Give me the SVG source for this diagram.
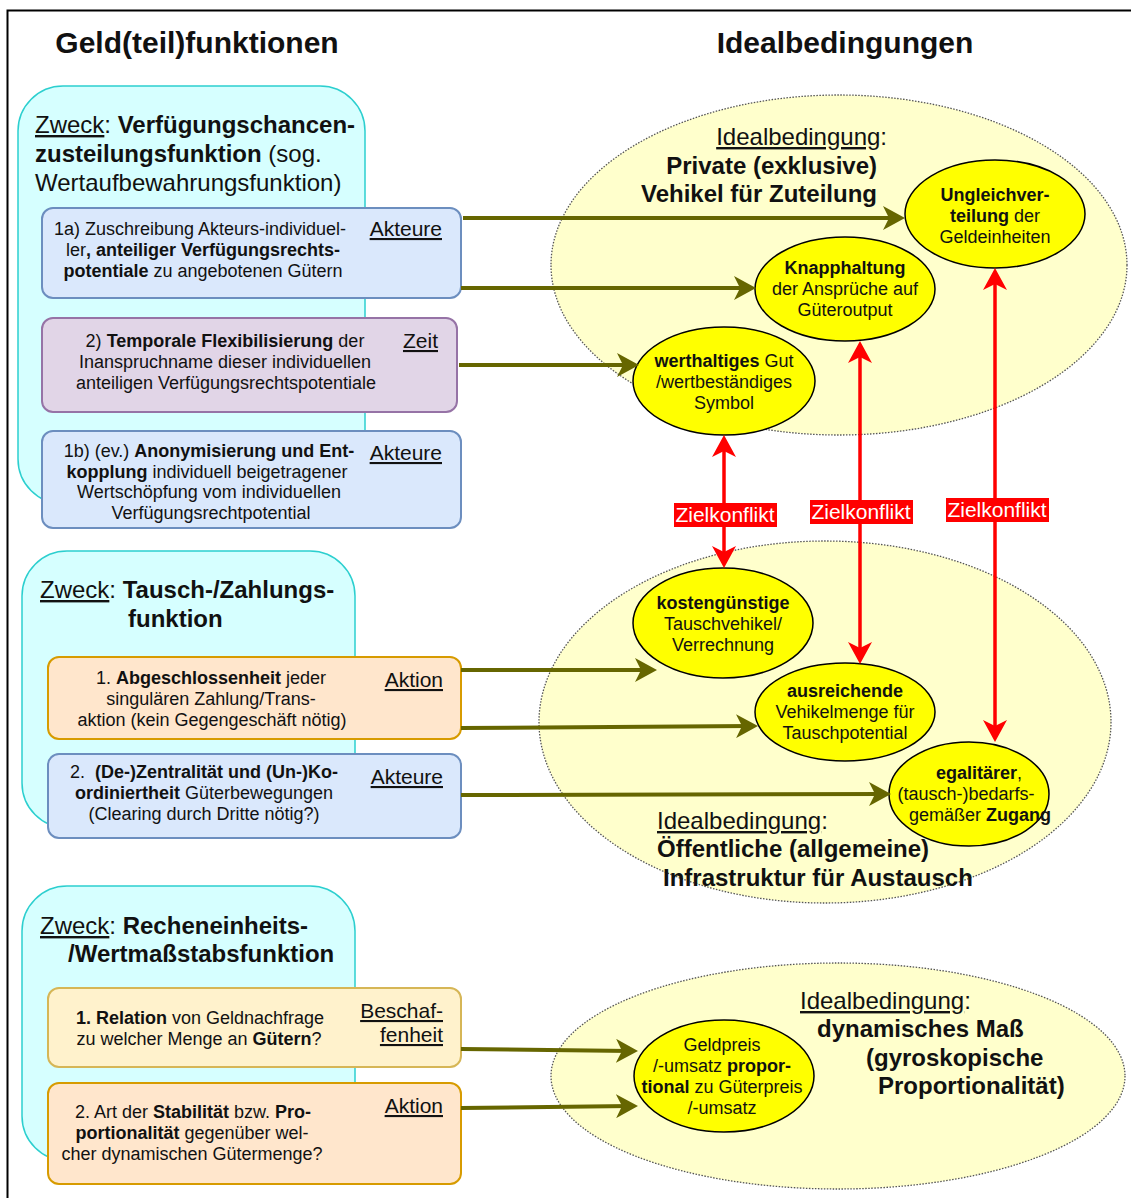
<svg xmlns="http://www.w3.org/2000/svg" width="1131" height="1198" viewBox="0 0 1131 1198">
<defs>
<style>
text{font-family:"Liberation Sans",Arial,sans-serif;fill:#111;}
.h{font-size:30px;font-weight:bold;}
.z{font-size:24px;}
.t{font-size:18px;text-anchor:middle;}
.lab{font-size:21px;text-decoration:underline;text-anchor:end;}
.e{font-size:18px;text-anchor:middle;}
.il{font-size:24px;}
.b{font-weight:bold;}
.u{text-decoration:underline;}
.zk{font-size:21px;fill:#fff;text-anchor:middle;}
.grp{fill:#d6ffff;stroke:#2ccfcf;stroke-width:1.5;}
.blue{fill:#dae8fc;stroke:#6c8ebf;stroke-width:2;}
.purple{fill:#e1d5e7;stroke:#9673a6;stroke-width:2;}
.orange{fill:#ffe6cc;stroke:#d79b00;stroke-width:2;}
.yel{fill:#fff2cc;stroke:#d6b656;stroke-width:2;}
.big{fill:#ffffcc;stroke:#555;stroke-width:1.3;stroke-dasharray:1.5 1.5;}
.small{fill:#ffff00;stroke:#000;stroke-width:1.5;}
.ol{stroke:#666600;stroke-width:4;fill:none;marker-end:url(#ah-ol);}
.rd{stroke:#ff0000;stroke-width:3.5;fill:none;marker-end:url(#ah-rd);marker-start:url(#ah-rd);}
.zkbg{fill:#ff0000;}
</style>
<marker id="ah-ol" viewBox="0 0 22 24" refX="14" refY="12" markerWidth="22" markerHeight="24" markerUnits="userSpaceOnUse" orient="auto">
<path d="M0,0 L22,12 L0,24 L6,12 Z" fill="#666600"/>
</marker>
<marker id="ah-rd" viewBox="0 0 22 24" refX="14" refY="12" markerWidth="22" markerHeight="24" markerUnits="userSpaceOnUse" orient="auto-start-reverse">
<path d="M0,0 L22,12 L0,24 L6,12 Z" fill="#ff0000"/>
</marker>
</defs>
<rect x="0" y="0" width="1131" height="1198" fill="#fff"/>
<rect x="7.5" y="10.5" width="1200" height="1250" fill="none" stroke="#000" stroke-width="2"/>

<g id="titles">
<text class="h" x="197" y="53" text-anchor="middle">Geld(teil)funktionen</text>
<text class="h" x="845" y="53" text-anchor="middle">Idealbedingungen</text>
</g>

<!-- Group 1 -->
<g id="grp-zuteilung">
<rect class="grp" x="18" y="86" width="347" height="418" rx="45"/>
<text class="z" x="35" y="133"><tspan class="u">Zweck</tspan>: <tspan class="b">Verfügungschancen-</tspan></text>
<text class="z" x="35" y="162"><tspan class="b">zusteilungsfunktion</tspan> (sog.</text>
<text class="z" x="35" y="191">Wertaufbewahrungsfunktion)</text>
</g>
<g id="box-1a">
<rect class="blue" x="42" y="208" width="419" height="90" rx="11"/>
<text class="t" x="200" y="235">1a) Zuschreibung Akteurs-individuel-</text>
<text class="t" x="203" y="256">ler<tspan class="b">, anteiliger Verfügungsrechts-</tspan></text>
<text class="t" x="203" y="277"><tspan class="b">potentiale</tspan> zu angebotenen Gütern</text>
<text class="lab" x="442" y="236">Akteure</text>
</g>
<g id="box-2">
<rect class="purple" x="42" y="318" width="415" height="94" rx="11"/>
<text class="t" x="225" y="347">2) <tspan class="b">Temporale Flexibilisierung</tspan> der</text>
<text class="t" x="225" y="368">Inanspruchname dieser individuellen</text>
<text class="t" x="226" y="389">anteiligen Verfügungsrechtspotentiale</text>
<text class="lab" x="438" y="348">Zeit</text>
</g>
<g id="box-1b">
<rect class="blue" x="42" y="431" width="419" height="97" rx="11"/>
<text class="t" x="209" y="457">1b) (ev.) <tspan class="b">Anonymisierung und Ent-</tspan></text>
<text class="t" x="207" y="478"><tspan class="b">kopplung</tspan> individuell beigetragener</text>
<text class="t" x="209" y="498">Wertschöpfung vom individuellen</text>
<text class="t" x="211" y="519">Verfügungsrechtpotential</text>
<text class="lab" x="442" y="460">Akteure</text>
</g>

<!-- Group 2 -->
<g id="grp-tausch">
<rect class="grp" x="22" y="551" width="333" height="277" rx="45"/>
<text class="z" x="40" y="598"><tspan class="u">Zweck</tspan>: <tspan class="b">Tausch-/Zahlungs-</tspan></text>
<text class="z b" x="128" y="627">funktion</text>
</g>
<g id="box-a1">
<rect class="orange" x="48" y="657" width="413" height="82" rx="11"/>
<text class="t" x="211" y="684">1. <tspan class="b">Abgeschlossenheit</tspan> jeder</text>
<text class="t" x="211" y="705">singulären Zahlung/Trans-</text>
<text class="t" x="212" y="726">aktion (kein Gegengeschäft nötig)</text>
<text class="lab" x="443" y="687">Aktion</text>
</g>
<g id="box-a2">
<rect class="blue" x="48" y="754" width="413" height="84" rx="11"/>
<text class="t" x="204" y="778" xml:space="preserve">2.  <tspan class="b">(De-)Zentralität und (Un-)Ko-</tspan></text>
<text class="t" x="204" y="799"><tspan class="b">ordiniertheit</tspan> Güterbewegungen</text>
<text class="t" x="204" y="820">(Clearing durch Dritte nötig?)</text>
<text class="lab" x="443" y="784">Akteure</text>
</g>

<!-- Group 3 -->
<g id="grp-rechen">
<rect class="grp" x="22" y="886" width="333" height="275" rx="45"/>
<text class="z" x="40" y="934"><tspan class="u">Zweck</tspan>: <tspan class="b">Recheneinheits-</tspan></text>
<text class="z b" x="68" y="962">/Wertmaßstabsfunktion</text>
</g>
<g id="box-b1">
<rect class="yel" x="48" y="988" width="413" height="79" rx="11"/>
<text class="t" x="200" y="1024"><tspan class="b">1. Relation</tspan> von Geldnachfrage</text>
<text class="t" x="199" y="1045">zu welcher Menge an <tspan class="b">Gütern</tspan>?</text>
<text class="lab" x="443" y="1018">Beschaf-</text>
<text class="lab" x="443" y="1042">fenheit</text>
</g>
<g id="box-b2">
<rect class="orange" x="48" y="1083" width="413" height="101" rx="11"/>
<text class="t" x="193" y="1118">2. Art der <tspan class="b">Stabilität</tspan> bzw. <tspan class="b">Pro-</tspan></text>
<text class="t" x="192" y="1139"><tspan class="b">portionalität</tspan> gegenüber wel-</text>
<text class="t" x="192" y="1160">cher dynamischen Gütermenge?</text>
<text class="lab" x="443" y="1113">Aktion</text>
</g>

<!-- Big ellipses -->
<g id="ideal-privat">
<ellipse class="big" cx="839" cy="265" rx="288" ry="170"/>
<text class="il" x="887" y="145" text-anchor="end"><tspan class="u">Idealbedingung</tspan>:</text>
<text class="il b" x="877" y="174" text-anchor="end">Private (exklusive)</text>
<text class="il b" x="877" y="202" text-anchor="end">Vehikel für Zuteilung</text>
</g>
<g id="ideal-oeffentlich">
<ellipse class="big" cx="825" cy="722" rx="286" ry="181"/>
<text class="il" x="657" y="829"><tspan class="u">Idealbedingung</tspan>:</text>
<text class="il b" x="657" y="857">Öffentliche (allgemeine)</text>
<text class="il b" x="663" y="886">Infrastruktur für Austausch</text>
</g>
<g id="ideal-dynamisch">
<ellipse class="big" cx="838" cy="1076" rx="287" ry="113"/>
<text class="il" x="800" y="1009"><tspan class="u">Idealbedingung</tspan>:</text>
<text class="il b" x="817" y="1037">dynamisches Maß</text>
<text class="il b" x="866" y="1066">(gyroskopische</text>
<text class="il b" x="878" y="1094">Proportionalität)</text>
</g>

<!-- Small ellipses -->
<g id="n-ungleich">
<ellipse class="small" cx="995" cy="214" rx="90" ry="54"/>
<text class="e" x="995" y="201"><tspan class="b">Ungleichver-</tspan></text>
<text class="e" x="995" y="222"><tspan class="b">teilung</tspan> der</text>
<text class="e" x="995" y="243">Geldeinheiten</text>
</g>
<g id="n-knapp">
<ellipse class="small" cx="845" cy="289" rx="90" ry="52"/>
<text class="e b" x="845" y="274">Knapphaltung</text>
<text class="e" x="845" y="295">der Ansprüche auf</text>
<text class="e" x="845" y="316">Güteroutput</text>
</g>
<g id="n-werthaltig">
<ellipse class="small" cx="724" cy="381" rx="91" ry="54"/>
<text class="e" x="724" y="367"><tspan class="b">werthaltiges</tspan> Gut</text>
<text class="e" x="724" y="388">/wertbeständiges</text>
<text class="e" x="724" y="409">Symbol</text>
</g>
<g id="n-kosten">
<ellipse class="small" cx="723" cy="623" rx="90" ry="55"/>
<text class="e b" x="723" y="609">kostengünstige</text>
<text class="e" x="723" y="630">Tauschvehikel/</text>
<text class="e" x="723" y="651">Verrechnung</text>
</g>
<g id="n-ausreichend">
<ellipse class="small" cx="845" cy="712" rx="90" ry="49"/>
<text class="e b" x="845" y="697">ausreichende</text>
<text class="e" x="845" y="718">Vehikelmenge für</text>
<text class="e" x="845" y="739">Tauschpotential</text>
</g>
<g id="n-egalitaer">
<ellipse class="small" cx="969" cy="794" rx="80" ry="52"/>
<text class="e" x="979" y="779"><tspan class="b">egalitärer</tspan>,</text>
<text class="e" x="966" y="800">(tausch-)bedarfs-</text>
<text class="e" x="980" y="821">gemäßer <tspan class="b">Zugang</tspan></text>
</g>
<g id="n-geldpreis">
<ellipse class="small" cx="724" cy="1076" rx="90" ry="56"/>
<text class="e" x="722" y="1051">Geldpreis</text>
<text class="e" x="722" y="1072">/-umsatz <tspan class="b">propor-</tspan></text>
<text class="e" x="722" y="1093"><tspan class="b">tional</tspan> zu Güterpreis</text>
<text class="e" x="722" y="1114">/-umsatz</text>
</g>

<!-- Connectors -->
<g id="connectors">
<line class="ol" x1="463" y1="218" x2="897" y2="218"/>
<line class="ol" x1="461" y1="288" x2="748" y2="288"/>
<line class="ol" x1="459" y1="365" x2="631" y2="365"/>
<line class="ol" x1="461" y1="670" x2="649" y2="670"/>
<line class="ol" x1="461" y1="728" x2="750" y2="726"/>
<line class="ol" x1="461" y1="795" x2="883" y2="794"/>
<line class="ol" x1="461" y1="1049" x2="630" y2="1051"/>
<line class="ol" x1="461" y1="1108" x2="630" y2="1106"/>
<line class="rd" x1="724" y1="443" x2="724" y2="560"/>
<line class="rd" x1="860" y1="349" x2="860" y2="656"/>
<line class="rd" x1="995" y1="276" x2="995" y2="734"/>
<rect class="zkbg" x="674" y="503" width="103" height="24"/>
<text class="zk" x="725" y="522">Zielkonflikt</text>
<rect class="zkbg" x="810" y="500" width="103" height="24"/>
<text class="zk" x="861" y="519">Zielkonflikt</text>
<rect class="zkbg" x="946" y="498" width="103" height="24"/>
<text class="zk" x="997" y="517">Zielkonflikt</text>
</g>
</svg>
